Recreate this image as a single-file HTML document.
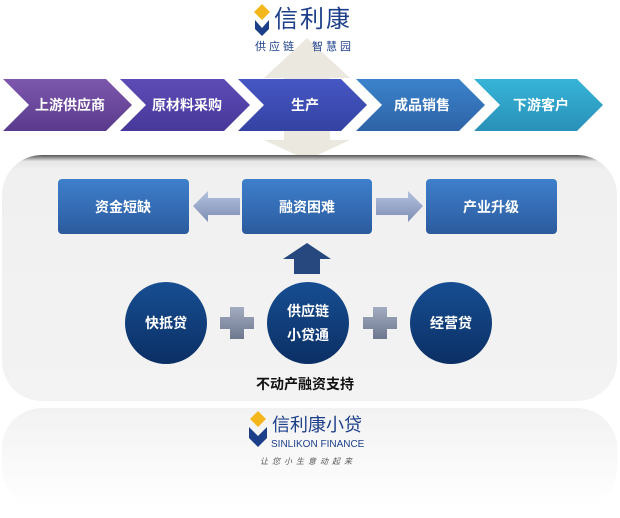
<!DOCTYPE html>
<html><head><meta charset="utf-8"><style>
html,body{margin:0;padding:0;background:#fff;}
svg{display:block;}
text{font-family:"Liberation Sans","Noto Sans CJK SC",sans-serif;}
</style></head><body>
<svg width="620" height="518" viewBox="0 0 620 518" xmlns="http://www.w3.org/2000/svg">
<defs>
<linearGradient id="panel" x1="0" y1="0" x2="0" y2="1"><stop offset="0" stop-color="#555"/><stop offset="0.025" stop-color="#e6e6e6"/><stop offset="0.06" stop-color="#f0f0f0"/><stop offset="1" stop-color="#f3f3f3"/></linearGradient>
<linearGradient id="box" x1="0" y1="0" x2="0" y2="1"><stop offset="0" stop-color="#3e7fcc"/><stop offset="1" stop-color="#2c5b9e"/></linearGradient>
<linearGradient id="circ" x1="0" y1="0" x2="0" y2="1"><stop offset="0" stop-color="#174e92"/><stop offset="1" stop-color="#0b2f64"/></linearGradient>
<linearGradient id="harr" x1="0" y1="0" x2="0" y2="1"><stop offset="0" stop-color="#b4c2de"/><stop offset="1" stop-color="#7d8eb4"/></linearGradient>
<linearGradient id="plus" x1="0" y1="0" x2="0" y2="1"><stop offset="0" stop-color="#a3acc0"/><stop offset="1" stop-color="#6d778e"/></linearGradient>
<linearGradient id="c1" x1="0" y1="0" x2="0" y2="1"><stop offset="0" stop-color="#7d58ad"/><stop offset="1" stop-color="#5a3a8c"/></linearGradient>
<linearGradient id="c2" x1="0" y1="0" x2="0" y2="1"><stop offset="0" stop-color="#5e4cb6"/><stop offset="1" stop-color="#47389a"/></linearGradient>
<linearGradient id="c3" x1="0" y1="0" x2="0" y2="1"><stop offset="0" stop-color="#4657c4"/><stop offset="1" stop-color="#3442a2"/></linearGradient>
<linearGradient id="c4" x1="0" y1="0" x2="0" y2="1"><stop offset="0" stop-color="#3b83cc"/><stop offset="1" stop-color="#2e63a6"/></linearGradient>
<linearGradient id="c5" x1="0" y1="0" x2="0" y2="1"><stop offset="0" stop-color="#36b4d8"/><stop offset="1" stop-color="#2a90b8"/></linearGradient>
<linearGradient id="refl" x1="0" y1="0" x2="0" y2="1"><stop offset="0" stop-color="#f2f2f2"/><stop offset="1" stop-color="#ffffff"/></linearGradient>
</defs>
<polygon points="307,38 350,78 330,78 330,140 350,140 307,160 264,140 284,140 284,78 264,78" fill="#ebe9df"/>
<polygon points="262,4 270,12 262,20 254,12" fill="#f3b61b"/>
<path d="M255,20 L262,28 L269,20 L269,29 L262,36 L255,29Z" fill="#1d3f8a"/>
<text x="313" y="27" font-size="24" fill="#1d3f8a" text-anchor="middle" letter-spacing="2">信利康</text>
<text x="255" y="50" font-size="11" fill="#1d3f8a" letter-spacing="3">供应链</text>
<text x="312" y="50" font-size="11" fill="#1d3f8a" letter-spacing="3">智慧园</text>
<polygon points="3,79 106,79 132,105 106,131 3,131 29,105" fill="url(#c1)"/>
<polygon points="120,79 224,79 250,105 224,131 120,131 146,105" fill="url(#c2)"/>
<polygon points="238,79 341,79 367,105 341,131 238,131 264,105" fill="url(#c3)"/>
<polygon points="356,79 459,79 485,105 459,131 356,131 382,105" fill="url(#c4)"/>
<polygon points="474,79 577,79 603,105 577,131 474,131 500,105" fill="url(#c5)"/>
<g font-size="14" fill="#fff" text-anchor="middle" font-weight="bold">
<text x="70" y="110">上游供应商</text>
<text x="187" y="110">原材料采购</text>
<text x="305" y="110">生产</text>
<text x="422" y="110">成品销售</text>
<text x="541" y="110">下游客户</text>
</g>
<rect x="2" y="155" width="615" height="246" rx="40" fill="url(#panel)"/>
<rect x="58" y="179" width="131" height="55" rx="4" fill="url(#box)"/>
<rect x="242" y="179" width="130" height="55" rx="4" fill="url(#box)"/>
<rect x="426" y="179" width="131" height="55" rx="4" fill="url(#box)"/>
<g font-size="14" fill="#fff" text-anchor="middle" font-weight="bold">
<text x="123" y="212">资金短缺</text>
<text x="307" y="212">融资困难</text>
<text x="491" y="212">产业升级</text>
</g>
<polygon points="193,206 208,191 208,198 240,198 240,215 208,215 208,222" fill="url(#harr)"/>
<polygon points="423,206 408,191 408,198 376,198 376,215 408,215 408,222" fill="url(#harr)"/>
<polygon points="307,243 331,259 320,259 320,274 294,274 294,259 283,259" fill="#27487e"/>
<circle cx="166" cy="323" r="41" fill="url(#circ)"/>
<circle cx="308" cy="323" r="41" fill="url(#circ)"/>
<circle cx="451" cy="323" r="41" fill="url(#circ)"/>
<g font-size="14" fill="#fff" text-anchor="middle" font-weight="bold">
<text x="166" y="328">快抵贷</text>
<text x="308" y="316">供应链</text>
<text x="308" y="340">小贷通</text>
<text x="451" y="328">经营贷</text>
</g>
<path d="M230,307 h14 v10 h10 v12 h-10 v10 h-14 v-10 h-10 v-12 h10z" fill="url(#plus)"/>
<path d="M373,307 h14 v10 h10 v12 h-10 v10 h-14 v-10 h-10 v-12 h10z" fill="url(#plus)"/>
<text x="305" y="389" font-size="14" fill="#111" text-anchor="middle" font-weight="bold">不动产融资支持</text>
<rect x="2" y="408" width="615" height="100" rx="40" fill="url(#refl)"/>
<polygon points="258,411 266,419 258,427 250,419" fill="#f3b61b"/>
<path d="M249,427 L258,436 L267,427 L267,438 L258,447 L249,438Z" fill="#1d3f8a"/>
<text x="272" y="431" font-size="18" fill="#1d3f8a">信利康小贷</text>
<text x="271" y="447" font-size="10" fill="#1d3f8a">SINLIKON FINANCE</text>
<text x="260" y="464" font-size="8" fill="#555" letter-spacing="4" font-style="italic">让您小生意动起来</text>
</svg>
</body></html>
